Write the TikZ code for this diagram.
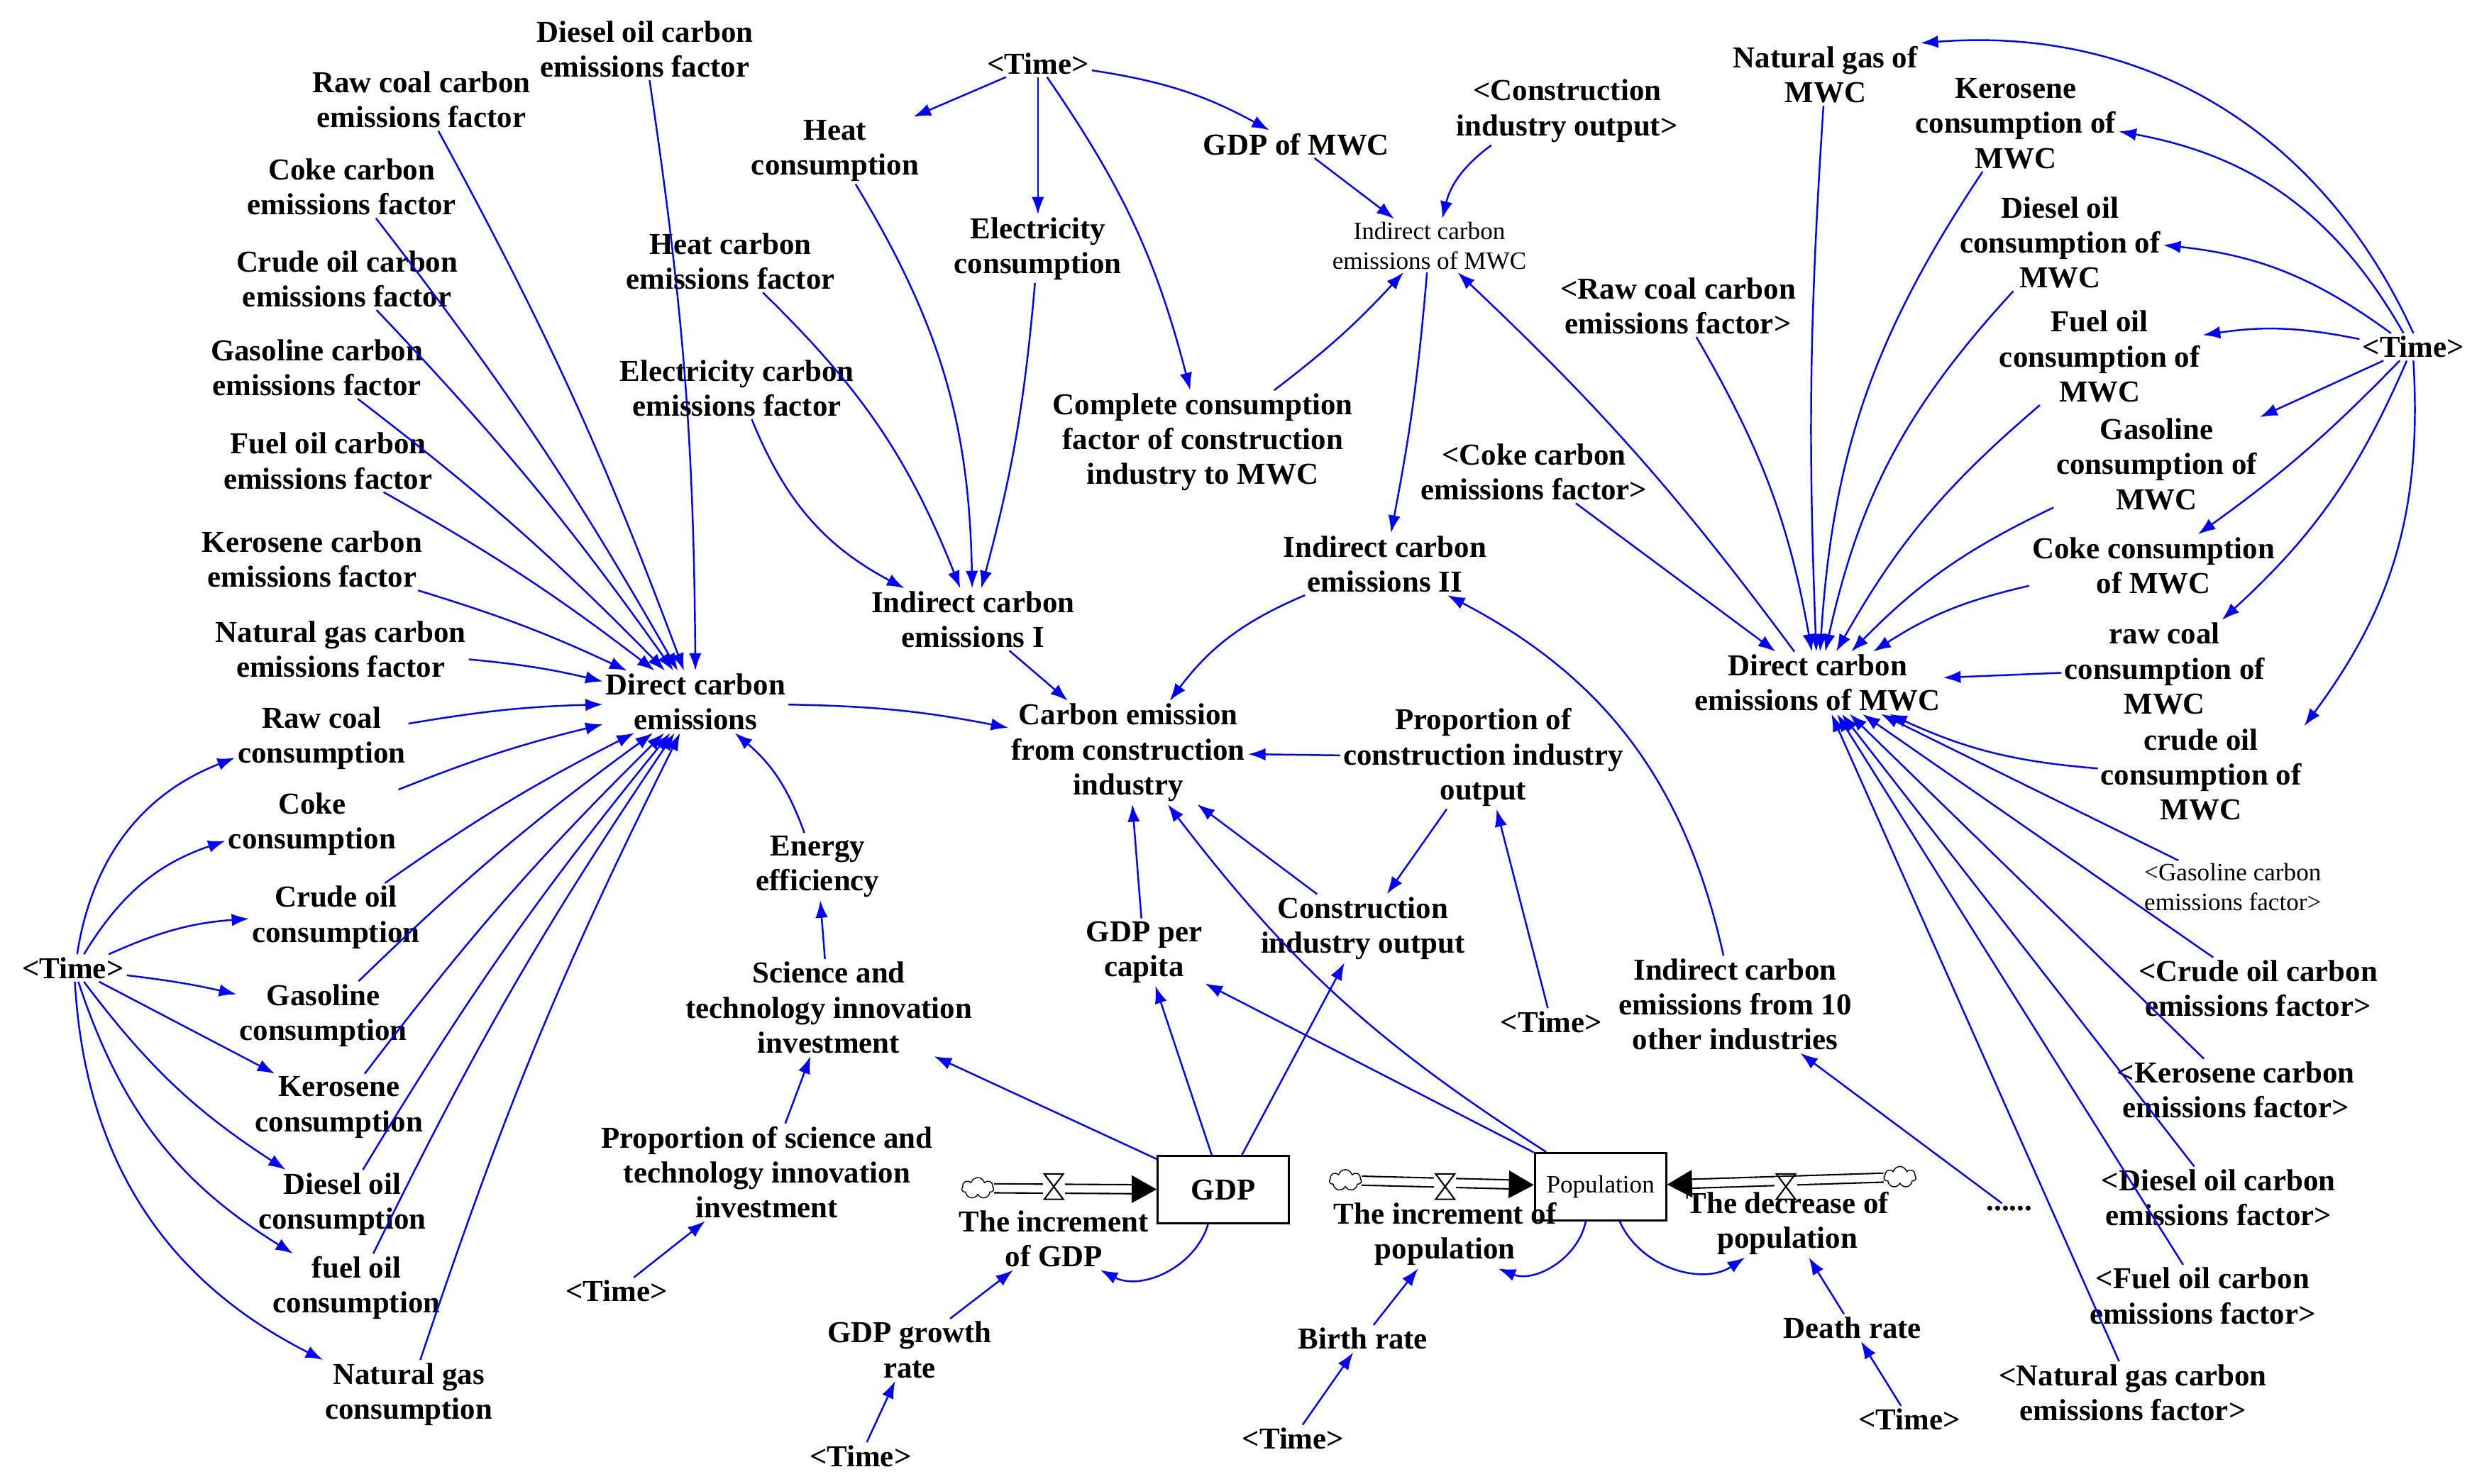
\documentclass[tikz,border=0pt]{standalone}
\usepackage{fontspec}
\setmainfont{Liberation Serif}
\usetikzlibrary{arrows.meta,shapes.symbols}
\begin{document}
\begin{tikzpicture}[x=0.02233cm,y=-0.02233cm,
	every node/.style={font=\bfseries\fontsize{12.2}{14}\selectfont,align=center,inner sep=1pt},
	sm/.style={font=\fontsize{10}{12}\selectfont},
	arr/.style={-{Latex[length=7pt,width=5pt]},blue,line width=0.7pt},
	box/.style={draw,line width=0.8pt,minimum width=1.85cm,minimum height=0.95cm}]
\useasboundingbox (0,0) rectangle (1560,936.3);
% left block
\node (dieselCF) at (407,31) {Diesel oil carbon\\emissions factor};
\node (rawCF) at (266,63) {Raw coal carbon\\emissions factor};
\node (cokeCF) at (222,118) {Coke carbon\\emissions factor};
\node (crudeCF) at (219,176) {Crude oil carbon\\emissions factor};
\node (gasCF) at (200,232) {Gasoline carbon\\emissions factor};
\node (fuelCF) at (207,291) {Fuel oil carbon\\emissions factor};
\node (keroCF) at (197,353) {Kerosene carbon\\emissions factor};
\node (natCF) at (215,410) {Natural gas carbon\\emissions factor};
\node (direct) at (439,443) {Direct carbon\\emissions};
\node (rawc) at (203,466) {Raw coal\\consumption};
\node (cokec) at (197,520) {Coke\\consumption};
\node (crudec) at (212,579) {Crude oil\\consumption};
\node (gasc) at (204,641) {Gasoline\\consumption};
\node (keroc) at (214,699) {Kerosene\\consumption};
\node (dieselc) at (216,760) {Diesel oil\\consumption};
\node (fuelc) at (225,813) {fuel oil\\consumption};
\node (natc) at (258,880) {Natural gas\\consumption};
\node (timeL) at (46,611) {<Time>};
\foreach \n in {dieselCF,rawCF,cokeCF,crudeCF,gasCF,fuelCF,keroCF,natCF,rawc,cokec,crudec,gasc,keroc,dieselc,fuelc,natc}
  \draw[arr] (\n) to[bend left=4] (direct);
\draw[arr] (timeL) to[bend left=30] (rawc);
\draw[arr] (timeL) to[bend left=20] (cokec);
\draw[arr] (timeL) to[bend left=10] (crudec);
\draw[arr] (timeL) to[bend left=3] (gasc);
\draw[arr] (timeL) to (keroc);
\draw[arr] (timeL) to[bend right=10] (dieselc);
\draw[arr] (timeL) to[bend right=20] (fuelc);
\draw[arr] (timeL) to[bend right=30] (natc);
% middle block
\node (timeT) at (655,40) {<Time>};
\node (heat) at (527,95) {Heat\\consumption};
\node (elec) at (655,157) {Electricity\\consumption};
\node (gdpMWC) at (818,91) {GDP of MWC};
\node (heatCF) at (461,165) {Heat carbon\\emissions factor};
\node (elecCF) at (465,245) {Electricity carbon\\emissions factor};
\node (complete) at (759,279) {Complete consumption\\factor of construction\\industry to MWC};
\node (indI) at (614,391) {Indirect carbon\\emissions I};
\node (constr) at (989,70) {<Construction\\industry output>};
\node[sm] (indMWC) at (902,155) {Indirect carbon\\emissions of MWC};
\node (rawCF2) at (1059,193) {<Raw coal carbon\\emissions factor>};
\node (cokeCF2) at (968,298) {<Coke carbon\\emissions factor>};
\node (indII) at (874,356) {Indirect carbon\\emissions II};
\node (carbon) at (712,475) {Carbon emission\\from construction\\industry};
\node (prop) at (936,478) {Proportion of\\construction industry\\output};
\node (energy) at (516,547) {Energy\\efficiency};
\node (sci) at (523,636) {Science and\\technology innovation\\investment};
\node (gdppc) at (722,601) {GDP per\\capita};
\node (constrOut) at (860,586) {Construction\\industry output};
\node (timeM) at (979,645) {<Time>};
\node (ind10) at (1095,634) {Indirect carbon\\emissions from 10\\other industries};
\node (propSci) at (484,740) {Proportion of science and\\technology innovation\\investment};
\node (timeS) at (389,815) {<Time>};
\node[box] (gdp) at (772,751) {GDP};
\node (incGDP) at (665,782) {The increment\\of GDP};
\node (gdpRate) at (574,852) {GDP growth\\rate};
\node (timeG) at (543,919) {<Time>};
\node[box,sm] (pop) at (1010,749) {Population};
\node (incPop) at (912,779) {The increment of\\population};
\node (decPop) at (1128,772) {The decrease of\\population};
\node (birth) at (860,845) {Birth rate};
\node (timeB) at (816,908) {<Time>};
\node (death) at (1169,838) {Death rate};
\node (timeD) at (1205,896) {<Time>};
\node (dots) at (1268,763) {......};
\node[cloud,draw,cloud puffs=7,minimum width=0.45cm,minimum height=0.3cm,inner sep=0pt] (cloud1) at (617,750) {};
\node[cloud,draw,cloud puffs=7,minimum width=0.45cm,minimum height=0.3cm,inner sep=0pt] (cloud2) at (849,745) {};
\node[cloud,draw,cloud puffs=7,minimum width=0.45cm,minimum height=0.3cm,inner sep=0pt] (cloud3) at (1199,743) {};
% flow pipes
\foreach \a/\b/\v in {cloud1/gdp/665,cloud2/pop/912,cloud3/pop/1127}{
  \draw[double,double distance=3pt,line width=0.6pt,-{Triangle[length=10pt,width=11pt]}] (\a) -- (\b);
  \fill[white] (\v-7,743) rectangle (\v+7,757);
  \draw[line width=0.6pt] (\v-6,741) -- (\v+6,741) -- (\v-6,757) -- (\v+6,757) -- cycle;}
\draw[arr] (timeT) -- (heat);
\draw[arr] (timeT) -- (elec);
\draw[arr] (timeT) to[bend left=10] (gdpMWC);
\draw[arr] (timeT) to[bend left=10] (complete);
\draw[arr] (heat) to[bend left=15] (indI);
\draw[arr] (elec) to[bend left=5] (indI);
\draw[arr] (heatCF) to[bend left=12] (indI);
\draw[arr] (elecCF) to[bend right=20] (indI);
\draw[arr] (gdpMWC) -- (indMWC);
\draw[arr] (constr) to[bend right=20] (indMWC);
\draw[arr] (complete) to[bend right=5] (indMWC);
\draw[arr] (indMWC) to[bend left=3] (indII);
\draw[arr] (indI) -- (carbon);
\draw[arr] (indII) to[bend right=15] (carbon);
\draw[arr] (direct) to[bend left=5] (carbon);
\draw[arr] (prop) -- (carbon);
\draw[arr] (constrOut) -- (carbon);
\draw[arr] (gdppc) -- (carbon);
\draw[arr] (pop) to[bend left=10] (carbon);
\draw[arr] (pop) -- (gdppc);
\draw[arr] (gdp) -- (gdppc);
\draw[arr] (gdp) -- (sci);
\draw[arr] (gdp) -- (constrOut);
\draw[arr] (prop) -- (constrOut);
\draw[arr] (timeM) -- (prop);
\draw[arr] (sci) -- (energy);
\draw[arr] (energy) to[bend right=15] (direct);
\draw[arr] (propSci) -- (sci);
\draw[arr] (timeS) -- (propSci);
\draw[arr] (gdp) to[bend left=50] (incGDP);
\draw[arr] (gdpRate) -- (incGDP);
\draw[arr] (timeG) -- (gdpRate);
\draw[arr] (pop) to[bend left=50] (incPop);
\draw[arr] (pop) to[bend right=50] (decPop);
\draw[arr] (birth) -- (incPop);
\draw[arr] (timeB) -- (birth);
\draw[arr] (death) -- (decPop);
\draw[arr] (timeD) -- (death);
\draw[arr] (ind10) to[bend right=25] (indII);
\draw[arr] (dots) -- (ind10);
% right block
\node (natMWC) at (1152,47) {Natural gas of\\MWC};
\node (keroMWC) at (1272,78) {Kerosene\\consumption of\\MWC};
\node (dieselMWC) at (1300,153) {Diesel oil\\consumption of\\MWC};
\node (fuelMWC) at (1325,225) {Fuel oil\\consumption of\\MWC};
\node (gasMWC) at (1361,293) {Gasoline\\consumption of\\MWC};
\node (cokeMWC) at (1359,357) {Coke consumption\\of MWC};
\node (rawMWC) at (1366,422) {raw coal\\consumption of\\MWC};
\node (crudeMWC) at (1389,489) {crude oil\\consumption of\\MWC};
\node (timeR) at (1523,219) {<Time>};
\node (directMWC) at (1147,431) {Direct carbon\\emissions of MWC};
\node[sm] (gasCF3) at (1409,560) {<Gasoline carbon\\emissions factor>};
\node (crudeCF3) at (1425,624) {<Crude oil carbon\\emissions factor>};
\node (keroCF3) at (1411,688) {<Kerosene carbon\\emissions factor>};
\node (dieselCF3) at (1400,756) {<Diesel oil carbon\\emissions factor>};
\node (fuelCF3) at (1390,818) {<Fuel oil carbon\\emissions factor>};
\node (natCF3) at (1346,879) {<Natural gas carbon\\emissions factor>};
\draw[arr] (timeR.north) to[bend right=35] (natMWC.north east);
\draw[arr] (timeR) to[bend right=25] (keroMWC);
\draw[arr] (timeR) to[bend right=15] (dieselMWC);
\draw[arr] (timeR) to[bend right=10] (fuelMWC);
\draw[arr] (timeR) -- (gasMWC);
\draw[arr] (timeR) to[bend left=5] (cokeMWC);
\draw[arr] (timeR) to[bend left=12] (rawMWC);
\draw[arr] (timeR.south) to[bend left=20] (crudeMWC.north east);
\draw[arr] (natMWC) to[bend right=3] (directMWC);
\draw[arr] (keroMWC) to[bend right=15] (directMWC);
\draw[arr] (dieselMWC) to[bend right=15] (directMWC);
\draw[arr] (fuelMWC) to[bend right=10] (directMWC);
\draw[arr] (gasMWC) to[bend right=10] (directMWC);
\draw[arr] (cokeMWC) to[bend right=10] (directMWC);
\draw[arr] (rawMWC) -- (directMWC);
\draw[arr] (crudeMWC) to[bend left=10] (directMWC);
\foreach \n in {gasCF3,crudeCF3,keroCF3,dieselCF3,fuelCF3,natCF3}
  \draw[arr] (\n) -- (directMWC);
\draw[arr] (rawCF2) to[bend left=10] (directMWC);
\draw[arr] (cokeCF2) -- (directMWC);
\draw[arr] (directMWC) to[bend right=5] (indMWC);
\end{tikzpicture}
\end{document}
